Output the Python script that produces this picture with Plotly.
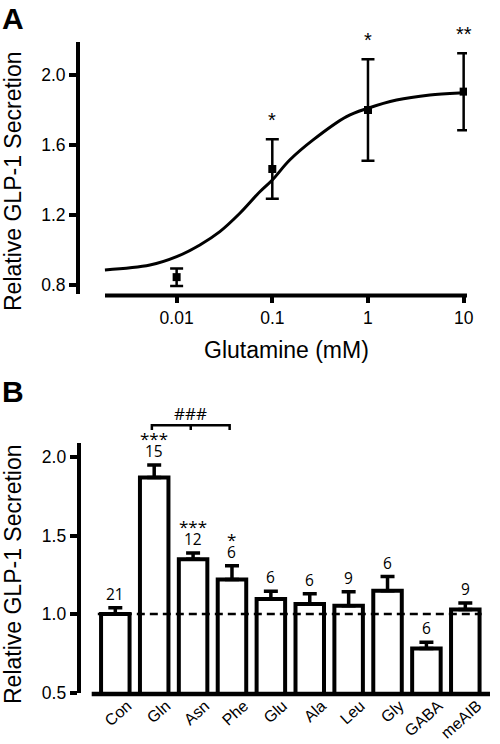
import numpy as np
import plotly.graph_objects as go

# ---------------- Panel A data ----------------
conc_mM = [0.01, 0.1, 1, 10]
secretion_A = [0.845, 1.463, 1.80, 1.905]
sem_A = [0.05, 0.17, 0.29, 0.22]
stars_A = ["", "*", "*", "**"]
# fitted curve
curve_conc = [0.00178, 0.00526, 0.01, 0.0175, 0.0283, 0.0458, 0.0741, 0.1,
              0.152, 0.267, 0.597, 1.0, 1.99, 4.44, 9.89, 10.8]
curve_y = [0.886, 0.914, 0.962, 1.029, 1.105, 1.21, 1.333, 1.40,
           1.514, 1.629, 1.762, 1.81, 1.857, 1.886, 1.899, 1.90]
ticks_A_x = [0.01, 0.1, 1, 10]
ticks_A_x_text = ["0.01", "0.1", "1", "10"]
ticks_A_y = [0.8, 1.2, 1.6, 2.0]

# ---------------- Panel B data ----------------
amino = ["Con", "Gln", "Asn", "Phe", "Glu", "Ala", "Leu", "Gly", "GABA", "meAIB"]
secretion_B = [1.00, 1.871, 1.35, 1.221, 1.096, 1.064, 1.053, 1.149, 0.78, 1.03]
sem_B = [0.04, 0.08, 0.04, 0.088, 0.05, 0.066, 0.09, 0.09, 0.04, 0.04]
n_B = ["21", "15", "12", "6", "6", "6", "9", "6", "6", "9"]
stars_B = ["", "***", "***", "*", "", "", "", "", "", ""]
ticks_B_y = [0.5, 1.0, 1.5, 2.0]
control_level = 1.0

W, H = 500, 744
FONT = "Liberation Sans, Arial, sans-serif"
NFONT = "Open Sans, Noto Sans, sans-serif"

# Panel A geometry
xdomA = [80 / W, 467 / W]
ydomA = [1 - 294 / H, 1 - 42 / H]
xrA = [-3.010, 1.035]
yrA = [0.7486, 2.1886]
xlineA = [105 / W, 467 / W]

# Panel B geometry
xdomB = [80.7 / W, 490 / W]
ydomB = [1 - 692.5 / H, 1 - 443 / H]
xrB = [-0.89, 9.635]
yrB = [0.5, 2.091]
xlineB = [91.7 / W, 490 / W]

fig = go.Figure()

# Panel A
fig.add_trace(go.Scatter(x=curve_conc, y=curve_y, mode="lines",
                         line=dict(color="black", width=3, shape="spline"),
                         xaxis="x", yaxis="y", showlegend=False, hoverinfo="skip"))
fig.add_trace(go.Scatter(x=conc_mM, y=secretion_A, mode="markers",
                         marker=dict(symbol="square", size=8, color="black"),
                         error_y=dict(type="data", array=sem_A, color="black",
                                      thickness=2.5, width=6.5),
                         xaxis="x", yaxis="y", showlegend=False))

# Panel B
xs = list(range(len(amino)))
fig.add_trace(go.Bar(x=xs, y=secretion_B, width=0.733,
                     marker=dict(color="white", line=dict(color="black", width=4)),
                     error_y=dict(type="data", symmetric=False, array=sem_B,
                                  arrayminus=[0] * len(sem_B), color="black",
                                  thickness=3.5, width=7),
                     xaxis="x2", yaxis="y2", showlegend=False))
fig.add_trace(go.Scatter(x=[-0.45, 9.42], y=[control_level, control_level], mode="lines",
                         line=dict(color="black", width=2.5, dash="8px,5px"),
                         xaxis="x2", yaxis="y2", showlegend=False, hoverinfo="skip"))

tickfont = dict(family=FONT, size=17.5, color="black")

fig.update_layout(
    template="none",
    width=W, height=H, margin=dict(l=0, r=0, t=0, b=0),
    paper_bgcolor="white", plot_bgcolor="white",
    xaxis=dict(type="log", range=xrA, domain=xdomA, anchor="y",
               showline=False, showgrid=False, zeroline=False,
               ticks="outside", ticklen=8, tickwidth=3.5, tickcolor="black",
               tickvals=ticks_A_x, ticktext=ticks_A_x_text, tickfont=tickfont),
    yaxis=dict(range=yrA, domain=ydomA, anchor="x",
               showline=True, linewidth=4, linecolor="black",
               showgrid=False, zeroline=False,
               ticks="outside", ticklen=7, tickwidth=4, tickcolor="black",
               tickvals=ticks_A_y, tickformat=".1f", tickfont=tickfont),
    xaxis2=dict(range=xrB, domain=xdomB, anchor="y2",
                showline=False, showgrid=False, zeroline=False, ticks="",
                tickvals=xs, ticktext=amino, tickangle=-42, ticklabelshift=12,
                tickfont=dict(family=FONT, size=16, color="black")),
    yaxis2=dict(range=yrB, domain=ydomB, anchor="x2",
                showline=True, linewidth=4, linecolor="black",
                showgrid=False, zeroline=False,
                ticks="outside", ticklen=7, tickwidth=4, tickcolor="black",
                tickvals=ticks_B_y, tickformat=".1f", tickfont=tickfont),
)

# detached x-axis baselines
fig.add_shape(type="line", xref="paper", yref="paper",
              x0=xlineA[0], x1=xlineA[1], y0=ydomA[0] - 1.5 / H, y1=ydomA[0] - 1.5 / H,
              line=dict(color="black", width=4))
fig.add_shape(type="line", xref="paper", yref="paper",
              x0=xlineB[0], x1=xlineB[1], y0=ydomB[0] - 1.5 / H, y1=ydomB[0] - 1.5 / H,
              line=dict(color="black", width=4.5))

ann = []
# Panel letters
ann.append(dict(text="<b>A</b>", x=0, y=1, xref="paper", yref="paper", xanchor="left",
                yanchor="top", showarrow=False,
                font=dict(family=FONT, size=30, color="black")))
ann.append(dict(text="<b>B</b>", x=0, y=1 - 373 / H, xref="paper", yref="paper",
                xanchor="left", yanchor="top", showarrow=False,
                font=dict(family=FONT, size=30, color="black")))
# Axis titles
for yc in (1 - 181 / H, 1 - 574 / H):
    ann.append(dict(text="Relative GLP-1 Secretion", x=0, y=yc, xref="paper",
                    yref="paper", xanchor="left", yanchor="middle", textangle=-90,
                    xshift=-2, showarrow=False,
                    font=dict(family=FONT, size=23, color="black")))
ann.append(dict(text="Glutamine (mM)", x=286.5 / W, y=1 - 350 / H, xref="paper",
                yref="paper", xanchor="center", yanchor="middle", showarrow=False,
                font=dict(family=FONT, size=23, color="black")))
# Panel A stars
for c, m, e, s in zip(conc_mM, secretion_A, sem_A, stars_A):
    if s:
        ann.append(dict(text=s, x=np.log10(c), y=m + e, xref="x", yref="y",
                        xanchor="center", yanchor="bottom", yshift=6, showarrow=False,
                        font=dict(family=FONT, size=20, color="black")))
# Panel B n labels and stars
for i, (m, e, n, s) in enumerate(zip(secretion_B, sem_B, n_B, stars_B)):
    ann.append(dict(text=n, x=i, y=m + e, xref="x2", yref="y2", xanchor="center",
                    yanchor="bottom", yshift=1, showarrow=False,
                    font=dict(family=NFONT, size=15.5, color="black")))
    if s:
        ann.append(dict(text=s, x=i, y=m + e, xref="x2", yref="y2", xanchor="center",
                        yanchor="bottom", yshift=13, showarrow=False,
                        font=dict(family=NFONT, size=17, color="black")))

# comparison bracket Gln vs Phe (paper coordinates from the axis mapping)
def xpB(v):
    return xdomB[0] + (v - xrB[0]) / (xrB[1] - xrB[0]) * (xdomB[1] - xdomB[0])

g1, g2, gm = 1 - 0.06, 3 - 0.06, 2 - 0.06
ytop = 1 - 425.3 / H
ybot = 1 - 430 / H
fig.add_shape(type="path",
              path=f"M {xpB(g1)} {ybot} L {xpB(g1)} {ytop} L {xpB(g2)} {ytop} L {xpB(g2)} {ybot} "
                   f"M {xpB(gm)} {ytop} L {xpB(gm)} {ybot}",
              xref="paper", yref="paper", line=dict(color="black", width=2.5))
ann.append(dict(text="###", x=xpB(gm), y=ytop, xref="paper", yref="paper",
                xanchor="center", yanchor="bottom", yshift=-2, showarrow=False,
                font=dict(family=NFONT, size=17, color="black")))

fig.update_layout(annotations=ann)
fig.write_html("out.html", config={"displayModeBar": False},
               post_script="document.body.style.margin='0';document.body.style.overflow='hidden';")
